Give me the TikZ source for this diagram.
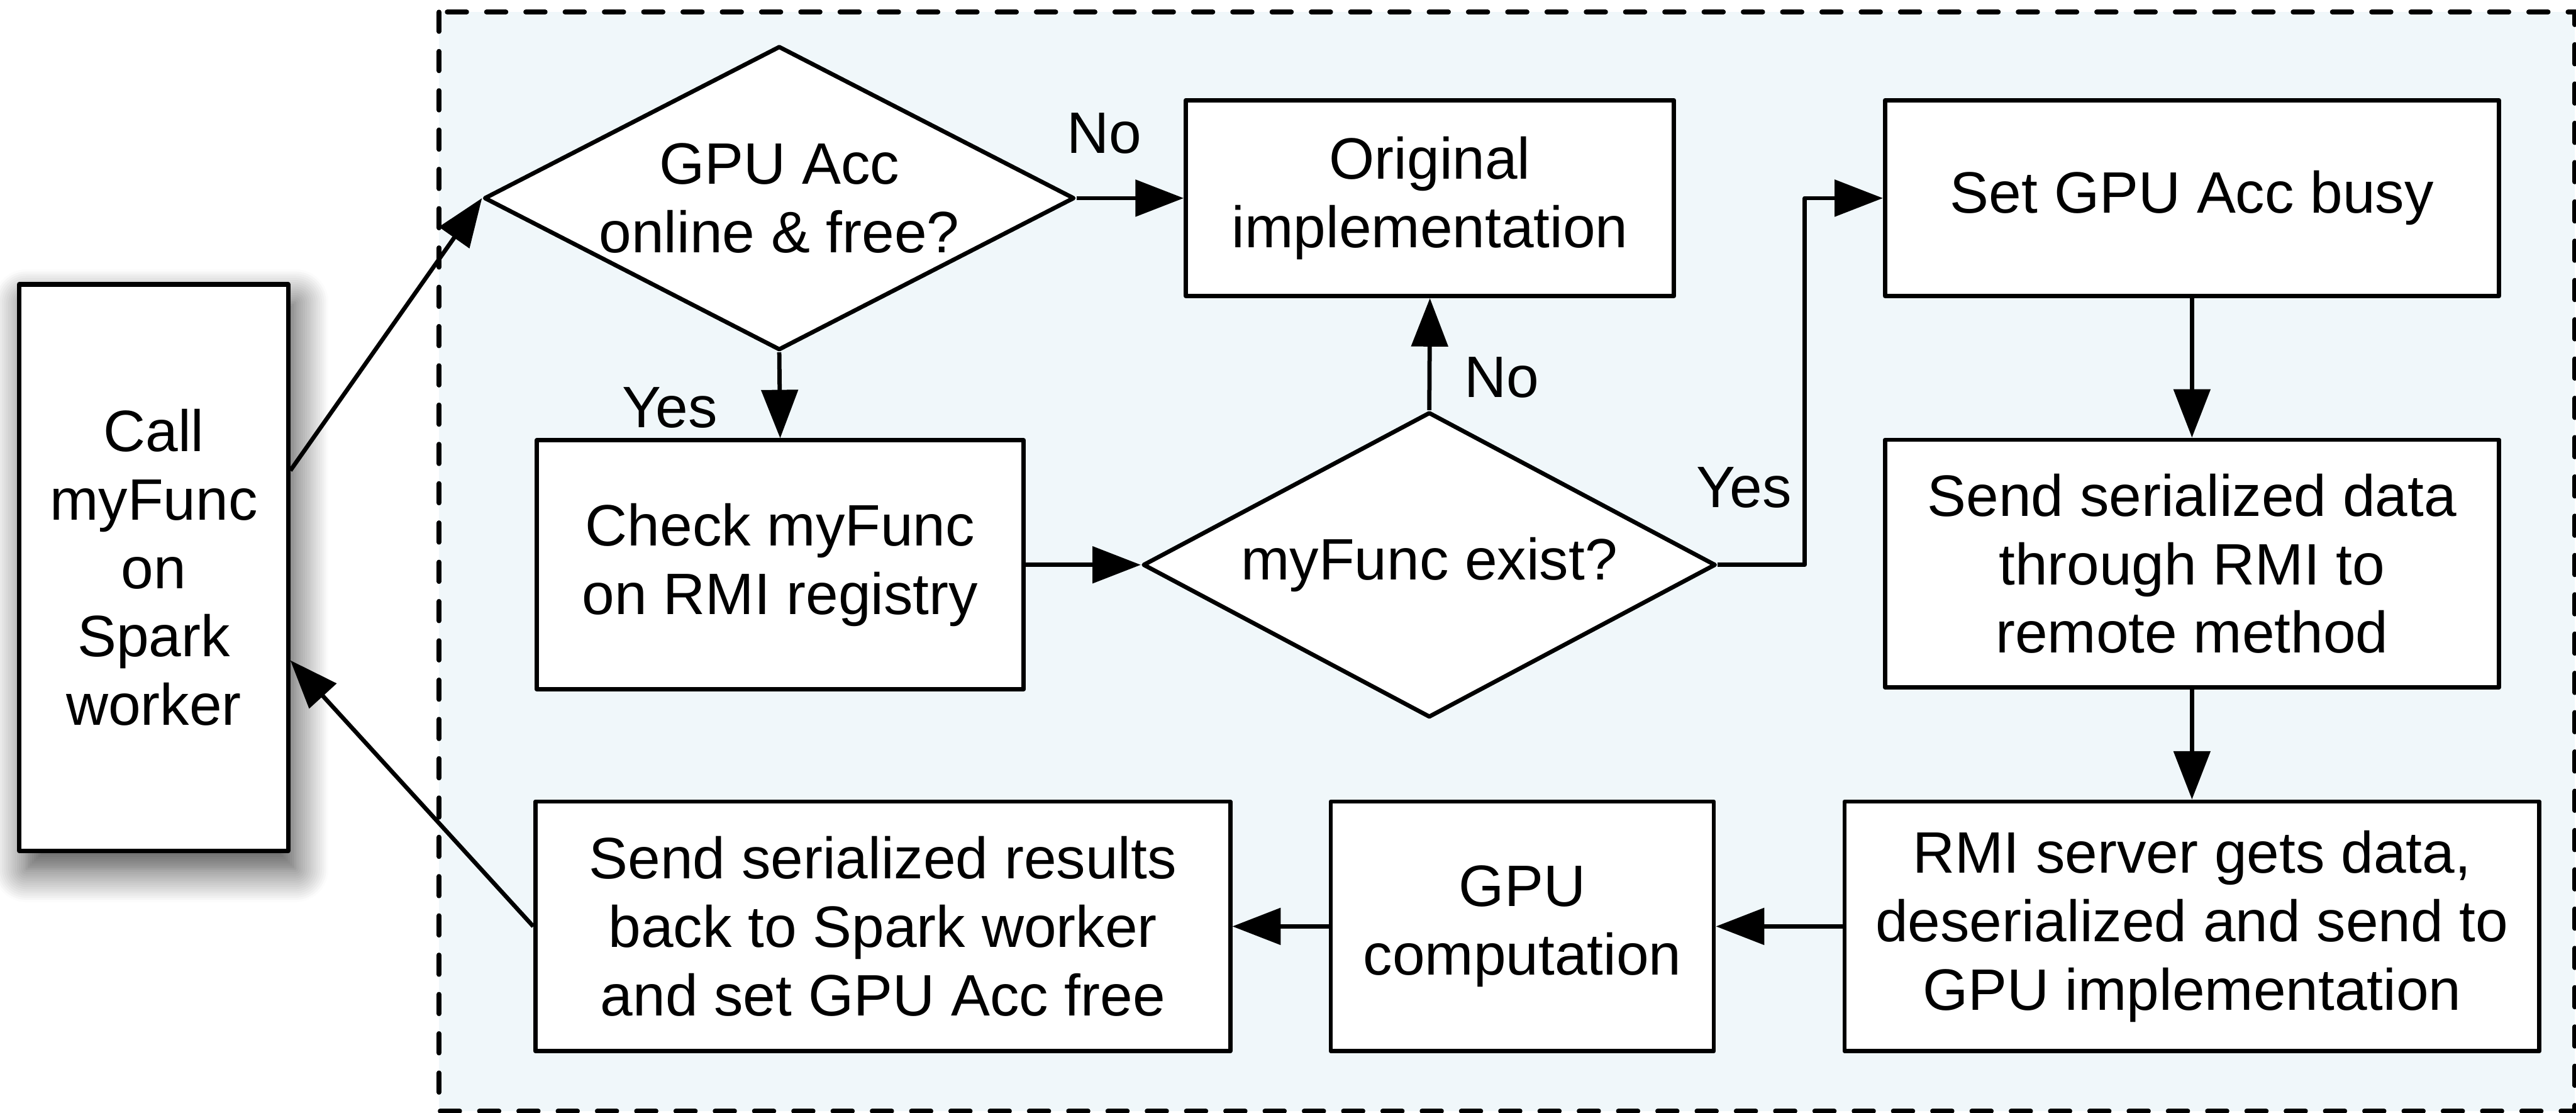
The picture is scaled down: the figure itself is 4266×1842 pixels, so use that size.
\documentclass[tikz,border=0pt]{standalone}
\usepackage{fontspec}
\setmainfont{Liberation Sans}
\usetikzlibrary{arrows.meta,shapes.geometric,shadows.blur}
\definecolor{panelblue}{RGB}{240,247,250}
\begin{document}
\begin{tikzpicture}[x=0.01cm,y=-0.01cm,
  txt/.style={font=\fontsize{27.5}{32.2}\selectfont, align=center, inner sep=0pt},
  box/.style={draw, line width=2pt, line join=round, fill=white, rectangle, inner sep=0pt, txt},
  dia/.style={draw, line width=2pt, line join=round, fill=white, diamond, inner sep=0pt},
  conn/.style={line width=2pt, line join=round, -{Triangle[length=0.8cm,width=0.6cm]}},
  lbl/.style={txt}]
\useasboundingbox (0,0) rectangle (4266,1842);
% container
\fill[panelblue] (727,20) rectangle (4264,1839);
\draw[line width=2.3pt, line cap=round, dash pattern=on 0.32cm off 0.33cm] (727,20) rectangle (4264,1839);

% left box
\node[box, line width=2.1pt, minimum width=4.45cm, minimum height=9.37cm,
  blur shadow={shadow xshift=0.12cm, shadow yshift=-0.3cm, shadow blur radius=0.55cm, shadow blur steps=16, shadow opacity=75}]
  (call) at (254.5,939.5) {Call\\myFunc\\on\\Spark\\worker};

% top row
\node[dia, minimum width=9.77cm, minimum height=5.03cm] (d1) at (1290.5,328) {};
\node[txt] (d1t) at (1290.5,328) {GPU Acc\\online \& free?};
\node[box, minimum width=8.08cm, minimum height=3.24cm] (orig) at (2368,328) {Original\\implementation};
\node[box, minimum width=10.16cm, minimum height=3.24cm] (setb) at (3630,328) {Set GPU Acc busy};

% middle row
\node[box, minimum width=8.06cm, minimum height=4.12cm] (check) at (1292,935) {Check myFunc\\on RMI registry};
\node[dia, minimum width=9.48cm, minimum height=5.05cm] (d2) at (2367,935) {};
\node[txt] (d2t) at (2367,935) {myFunc exist?};
\node[box, minimum width=10.16cm, minimum height=4.10cm] (sendd) at (3630,933) {Send serialized data\\through RMI to\\remote method};

% bottom row
\node[box, minimum width=11.50cm, minimum height=4.13cm] (sendr) at (1462,1533.5) {Send serialized results\\back to Spark worker\\and set GPU Acc free};
\node[box, minimum width=6.34cm, minimum height=4.13cm] (gpu) at (2521,1533.5) {GPU\\computation};
\node[box, minimum width=11.50cm, minimum height=4.13cm] (rmi) at (3630,1533.5) {RMI server gets data,\\deserialized and send to\\GPU implementation};

% connectors
\draw[conn] ([yshift=1.605cm]call.east) -- (d1.west);
\draw[conn] (sendr.west) -- ([yshift=-1.535cm]call.east);
\draw[conn] (d1.east) -- (orig.west);
\draw[conn] (d1.south) -- (check.north);
\draw[conn] (check.east) -- (d2.west);
\draw[conn] (d2.north) -- (orig.south);
\draw[conn] (d2.east) -- ++(144,0) |- (setb.west);
\draw[conn] (setb.south) -- (sendd.north);
\draw[conn] (sendd.south) -- (rmi.north);
\draw[conn] (rmi.west) -- (gpu.east);
\draw[conn] (gpu.west) -- (sendr.east);

% labels
\node[lbl] (no1) at (1829,221) {No};
\node[lbl] (yes1) at (1109,675) {Yes};
\node[lbl] (no2) at (2487,625) {No};
\node[lbl] (yes2) at (2888,807) {Yes};
\end{tikzpicture}
\end{document}
